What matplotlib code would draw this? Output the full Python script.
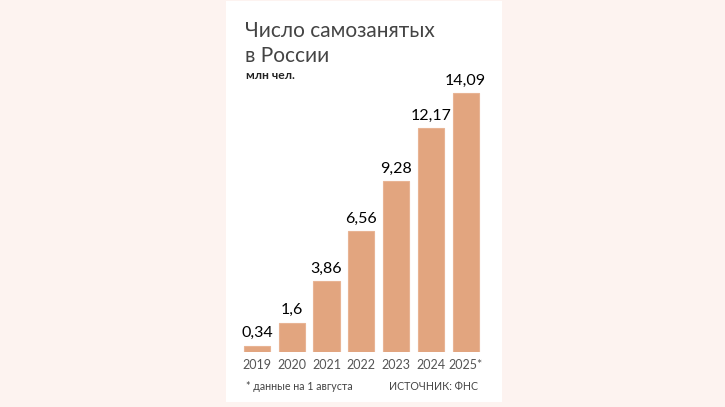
import matplotlib
matplotlib.use("Agg")
import matplotlib.pyplot as plt
from matplotlib.patches import Rectangle

years = ["2019", "2020", "2021", "2022", "2023", "2024", "2025*"]
values = [0.34, 1.6, 3.86, 6.56, 9.28, 12.17, 14.09]
value_labels = ["0,34", "1,6", "3,86", "6,56", "9,28", "12,17", "14,09"]

W, H = 725, 407
fig = plt.figure(figsize=(W / 100, H / 100), dpi=100)
fig.patch.set_facecolor("#fdf3f0")

# white card in the middle
fig.patches.append(Rectangle((226 / W, 1 - 402 / H), 276 / W, 401 / H,
                             transform=fig.transFigure, facecolor="white",
                             edgecolor="none", zorder=-5))

bottom_px, top_px = 352, 60
ax = fig.add_axes([239.6 / W, 1 - bottom_px / H, 243.4 / W, (bottom_px - top_px) / H])
ax.set_zorder(2)
ax.set_facecolor("none")
ax.set_xlim(-0.5, len(years) - 0.5)
ax.set_ylim(0, max(values) * (bottom_px - top_px) / (bottom_px - 93))

x = range(len(years))
ax.bar(x, values, width=0.75, color="#e2a57f", edgecolor="#e8b494", linewidth=0.8)
for i, (v, lab) in enumerate(zip(values, value_labels)):
    ax.annotate(lab, (i, v), xytext=(0, 4), textcoords="offset points",
                ha="center", va="bottom", fontsize=11.5, family="Lato",
                color="#000000", clip_on=False)

ax.set_xticks(list(x))
ax.set_xticklabels(years, fontsize=9, family="Lato", color="#555555")
ax.tick_params(axis="x", length=0, pad=5)
ax.set_yticks([])
for s in ax.spines.values():
    s.set_visible(False)

fig.text(245 / W, 1 - 37 / H, "Число самозанятых", fontsize=15, family="Lato",
         color="#444444", va="baseline")
fig.text(245 / W, 1 - 62 / H, "в России", fontsize=15, family="Lato",
         color="#444444", va="baseline")
fig.text(246 / W, 1 - 79 / H, "млн чел.", fontsize=8.7, family="Lato",
         fontweight="bold", color="#222222", va="baseline")

fig.text(246 / W, 1 - 390 / H, "* данные на 1 августа", fontsize=7.7, family="Lato",
         color="#444444", va="baseline")
fig.text(478 / W, 1 - 390 / H, "ИСТОЧНИК: ФНС", fontsize=7.7, family="Lato",
         color="#444444", va="baseline", ha="right")

fig.savefig("out.png", dpi=100, facecolor=fig.get_facecolor())
